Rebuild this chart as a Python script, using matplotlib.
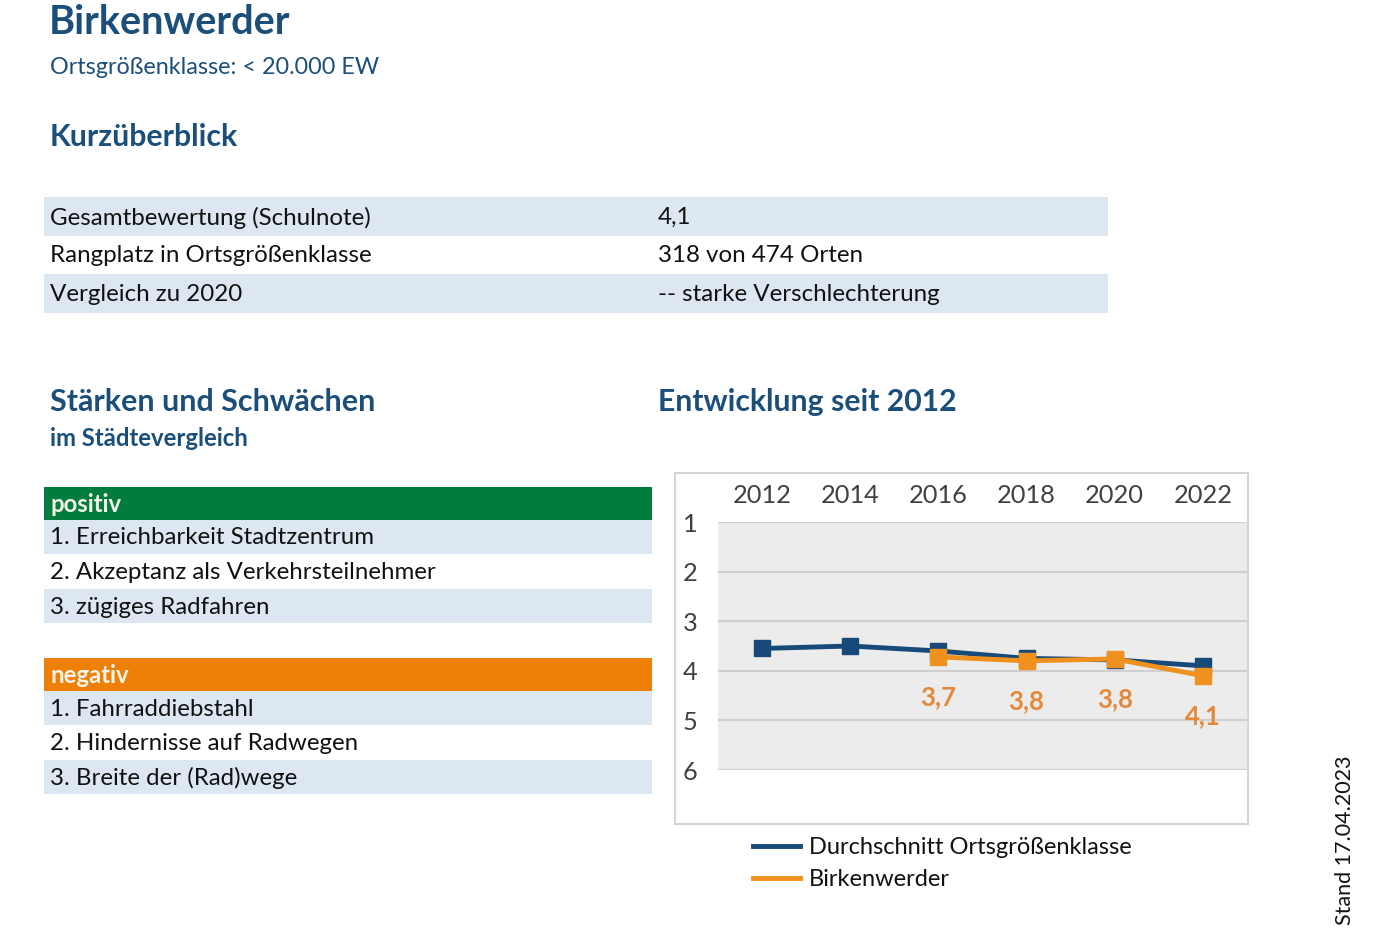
import numpy as np
import matplotlib
matplotlib.use("Agg")
import matplotlib.pyplot as plt
from matplotlib.patches import Rectangle
from matplotlib.lines import Line2D

plt.rcParams['font.family'] = ['Lato', 'DejaVu Sans']

# Daten
jahre = ["2012", "2014", "2016", "2018", "2020", "2022"]
durchschnitt = [3.55, 3.5, 3.6, 3.75, 3.78, 3.9]
birkenwerder = [np.nan, np.nan, 3.72, 3.8, 3.76, 4.1]
noten_ticks = [1, 2, 3, 4, 5, 6]

ueberblick_labels = ["Gesamtbewertung (Schulnote)", "Rangplatz in Ortsgrößenklasse", "Vergleich zu 2020"]
ueberblick_werte = ["4,1", "318 von 474 Orten", "-- starke Verschlechterung"]
positiv = ["1. Erreichbarkeit Stadtzentrum", "2. Akzeptanz als Verkehrsteilnehmer", "3. zügiges Radfahren"]
negativ = ["1. Fahrraddiebstahl", "2. Hindernisse auf Radwegen", "3. Breite der (Rad)wege"]

# Farben
dunkelblau = "#1b4f7a"
hellblau = "#dde7f2"
gruen = "#007d3c"
orange_kopf = "#ee8008"
linie_blau = "#174a78"
linie_orange = "#f0901e"
label_orange = "#e4893a"

W, H = 1400, 934
fig = plt.figure(figsize=(W / 100, H / 100), dpi=100)

# Hintergrund-Achse in Pixelkoordinaten
bg = fig.add_axes([0, 0, 1, 1])
bg.set_xlim(0, W)
bg.set_ylim(H, 0)
bg.axis("off")

# Titel
bg.text(49, 23, "Birkenwerder", fontsize=28.5, fontweight="bold", color=dunkelblau, va="center")
bg.text(50, 68, "Ortsgrößenklasse: < 20.000 EW", fontsize=16.8, color=dunkelblau, va="center")
bg.text(50, 137, "Kurzüberblick", fontsize=21.8, fontweight="bold", color=dunkelblau, va="center")

# Kurzüberblick-Tabelle
zeilen_y = [197, 235.5, 274]
for i, (lab, wert) in enumerate(zip(ueberblick_labels, ueberblick_werte)):
    y0 = zeilen_y[i]
    if i % 2 == 0:
        bg.add_patch(Rectangle((44, y0), 1064, 38.5, color=hellblau, lw=0))
    bg.text(50, y0 + 20.5, lab, fontsize=17.4, color="#111111", va="center")
    bg.text(658, y0 + 20.5, wert, fontsize=17.4, color="#111111", va="center")

# Stärken und Schwächen
bg.text(50, 402, "Stärken und Schwächen", fontsize=22, fontweight="bold", color=dunkelblau, va="center")
bg.text(50, 438, "im Städtevergleich", fontsize=17.2, fontweight="bold", color=dunkelblau, va="center")
bg.text(658, 402, "Entwicklung seit 2012", fontsize=21.7, fontweight="bold", color=dunkelblau, va="center")


def liste(y_kopf, titel, farbe, eintraege):
    bg.add_patch(Rectangle((44, y_kopf), 608, 33, color=farbe, lw=0))
    bg.text(50, y_kopf + 17.5, titel, fontsize=17.2, fontweight="bold", color="#f4f4e8", va="center")
    for j, e in enumerate(eintraege):
        y0 = y_kopf + 33 + j * 34.5
        if j % 2 == 0:
            bg.add_patch(Rectangle((44, y0), 608, 34, color=hellblau, lw=0))
        bg.text(50, y0 + 18, e, fontsize=17.3, color="#111111", va="center")


liste(487, "positiv", gruen, positiv)
liste(658, "negativ", orange_kopf, negativ)

# Rahmen des Diagramms
bg.add_patch(Rectangle((675, 473), 573, 351, fill=False, edgecolor="#d4d4d4", lw=1.5))

# Stand
bg.text(1345, 925, "Stand 17.04.2023", fontsize=15.5, rotation=90, color="#111111", ha="center", va="bottom")

# Liniendiagramm
ax = fig.add_axes([718 / W, 1 - 770 / H, 529 / W, 248 / H])
ax.set_facecolor("#ececec")
x = np.arange(len(jahre))
ax.plot(x, durchschnitt, color=linie_blau, lw=3.5, marker="s", markersize=11, zorder=3)
ax.plot(x, birkenwerder, color=linie_orange, lw=3.5, marker="s", markersize=11, zorder=4)
for xi, v in zip(x, birkenwerder):
    if not np.isnan(v):
        ax.annotate(f"{v:.1f}".replace(".", ","), (xi, v), xytext=(0, -40), textcoords="offset pixels",
                    ha="center", va="center", fontsize=18.5, fontweight="bold", color=label_orange)
ax.set_xlim(-0.5, len(jahre) - 0.5)
ax.set_ylim(6, 1)
ax.set_yticks(noten_ticks)
ax.set_yticklabels([str(t) for t in noten_ticks])
ax.set_xticks(x)
ax.set_xticklabels(jahre)
ax.xaxis.tick_top()
ax.tick_params(axis="both", length=0, labelsize=18.3, labelcolor="#404040")
ax.tick_params(axis="x", pad=11)
ax.tick_params(axis="y", pad=20)
for t in ax.get_yticklabels():
    t.set_horizontalalignment("center")
ax.grid(axis="y", color="#cfcfcf", lw=1.5)
ax.set_axisbelow(True)
for s in ax.spines.values():
    s.set_visible(False)

handles = [Line2D([], [], color=linie_blau, lw=3.5), Line2D([], [], color=linie_orange, lw=3.5)]
fig.legend(handles, ["Durchschnitt Ortsgrößenklasse", "Birkenwerder"], loc="upper left",
           bbox_to_anchor=(732 / W, 1 - 816 / H), frameon=False, fontsize=17, handlelength=2.0,
           handletextpad=0.34, labelspacing=0.47, labelcolor="#111111")

fig.savefig("out.png", dpi=100)
